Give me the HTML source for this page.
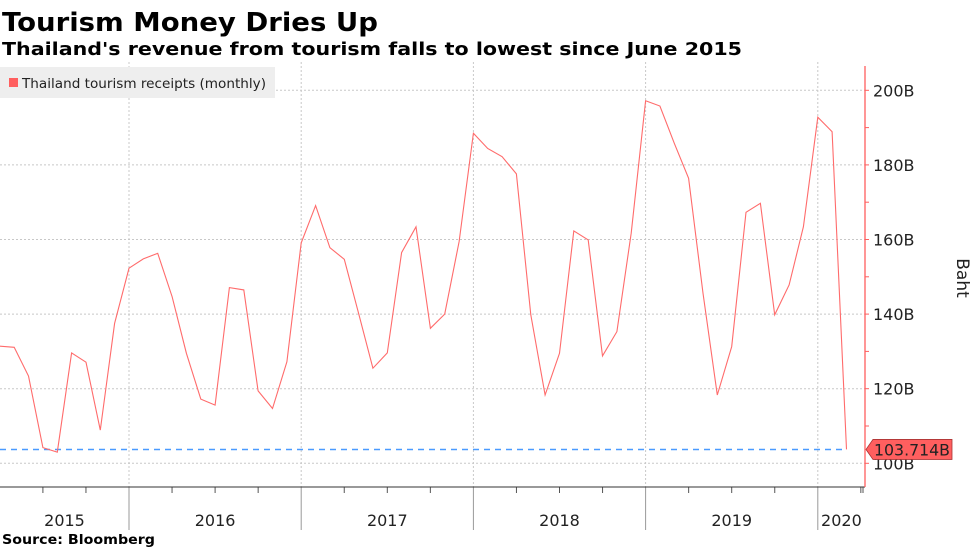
<!DOCTYPE html>
<html><head><meta charset="utf-8"><style>
html,body{margin:0;padding:0;background:#fff;}
svg{display:block;font-family:"DejaVu Sans","Liberation Sans",sans-serif;}
</style></head><body>
<svg id="chart" width="977" height="549" viewBox="0 0 977 549">
<text x="2" y="31" font-size="26" font-weight="bold" textLength="376" lengthAdjust="spacingAndGlyphs">Tourism Money Dries Up</text>
<text x="2" y="55" font-size="18" font-weight="bold" textLength="740" lengthAdjust="spacingAndGlyphs">Thailand's revenue from tourism falls to lowest since June 2015</text>
<g id="grid"></g>
<g id="axes"></g>
<g id="series"></g>
<g>
<rect x="0" y="67" width="275" height="31" fill="#eeeeee"/>
<rect x="9" y="78" width="9" height="9" fill="#ff5f5f"/>
<text x="22" y="88" font-size="13.5" fill="#222" textLength="244" lengthAdjust="spacingAndGlyphs">Thailand tourism receipts (monthly)</text>
</g>
<text transform="translate(957,278) rotate(90)" text-anchor="middle" font-size="17" fill="#222">Baht</text>
<text x="2" y="544" font-size="13.5" font-weight="bold" textLength="153" lengthAdjust="spacingAndGlyphs">Source: Bloomberg</text>
</svg>
<script>
const values = [131.4,131.1,123.4,104.2,103.0,129.6,127.1,108.9,137.5,
152.3,154.8,156.3,144.7,129.5,117.2,115.6,147.1,146.5,119.4,114.7,127.2,
159.1,169.1,157.8,154.7,140.2,125.5,129.6,156.5,163.4,136.2,140.0,159.4,
188.5,184.4,182.2,177.6,139.8,118.3,129.5,162.3,159.9,128.8,135.3,161.7,
197.2,195.8,185.8,176.4,145.6,118.3,131.3,167.3,169.7,139.8,147.8,163.4,
192.8,188.9,103.714];
const startMonthIndex = 3; // April 2015 (months since Jan 2015)
const years = ["2015","2016","2017","2018","2019","2020"];
const yTicks = [100,120,140,160,180,200];
const yTickLabels = ["100B","120B","140B","160B","180B","200B"];
const lastValue = 103.714;
const lastLabel = "103.714B";

const NS="http://www.w3.org/2000/svg";
const X0=-43.2, MW=14.35, AX=865;
const xm = m => X0 + m*MW;
const ys = v => 463.3 - (v-100)*3.73;
function mk(tag, attrs, parent){const e=document.createElementNS(NS,tag);for(const k in attrs)e.setAttribute(k,attrs[k]);parent.appendChild(e);return e;}
const grid=document.getElementById('grid'), axes=document.getElementById('axes'), series=document.getElementById('series');

// horizontal grid
yTicks.forEach((v,i)=>{
  const l=mk('line',{x1:0,x2:AX,y1:ys(v),y2:ys(v),stroke:'#c8c8c8','stroke-dasharray':'2,2','stroke-width':1},grid);
  
  
  const t=mk('text',{x:AX+8,y:ys(v)+6,'font-size':16,fill:'#222'},axes);
  t.textContent=yTickLabels[i];
  
  
});
// y minor ticks every 10
for(let v=100; v<=200; v+=10){
  const tk=mk('line',{x1:AX,x2:AX+4,y1:ys(v),y2:ys(v),stroke:'#ff5f5f','stroke-width':1},axes);
  
  
}
// year lines and labels
years.forEach((yr,i)=>{
  const xs=xm(i*12), xe=Math.min(xm((i+1)*12), AX);
  if(i>0){
    const g=mk('line',{x1:xs,x2:xs,y1:62,y2:487,stroke:'#c8c8c8','stroke-dasharray':'2,2'},grid);
    
    
    const s=mk('line',{x1:xs,x2:xs,y1:487,y2:530,stroke:'#999'},axes);
    
    
  }
  const cx=(Math.max(xs,0)+xe)/2;
  const t=mk('text',{x:cx,y:526,'font-size':16,fill:'#222','text-anchor':'middle'},axes);
  t.textContent=yr;
  
  
  for(let q=1;q<4;q++){
    const qx=xm(i*12+q*3);
    if(qx>0 && qx<AX){
      const qt=mk('line',{x1:qx,x2:qx,y1:487,y2:493,stroke:'#555'},axes);
      
      
    }
  }
});
const endTick=mk('line',{x1:AX-2,x2:AX-2,y1:487,y2:493,stroke:'#555'},axes);


// axes lines
const xa=mk('line',{x1:0,x2:AX,y1:487,y2:487,stroke:'#333','stroke-width':1},axes);


const ya=mk('line',{x1:AX,x2:AX,y1:66,y2:487,stroke:'#ff5f5f','stroke-width':1.3},axes);



// dashed reference line at last value
const lastX = xm(startMonthIndex+values.length-1);
const ref=mk('line',{x1:0,x2:lastX,y1:ys(lastValue),y2:ys(lastValue),stroke:'#4a9bff','stroke-width':1.5,'stroke-dasharray':'6,5'},series);



// series line
const pts=values.map((v,i)=>xm(startMonthIndex+i).toFixed(1)+','+ys(v).toFixed(1)).join(' ');
const pl=mk('polyline',{points:pts,fill:'none',stroke:'#ff6b6b','stroke-width':1.1,'stroke-linejoin':'miter'},series);



// last value label
const ly=ys(lastValue);
const lb=mk('path',{d:`M${AX+1},${ly} L${AX+8},${ly-10} L${AX+87},${ly-10} L${AX+87},${ly+10} L${AX+8},${ly+10} Z`,fill:'#ff5f5f',stroke:'#a33','stroke-width':0.8},series);


const lt=mk('text',{x:AX+9,y:ly+6,'font-size':16,fill:'#222',textLength:76,lengthAdjust:'spacingAndGlyphs'},series);
lt.textContent=lastLabel;


</script>
</body></html>
